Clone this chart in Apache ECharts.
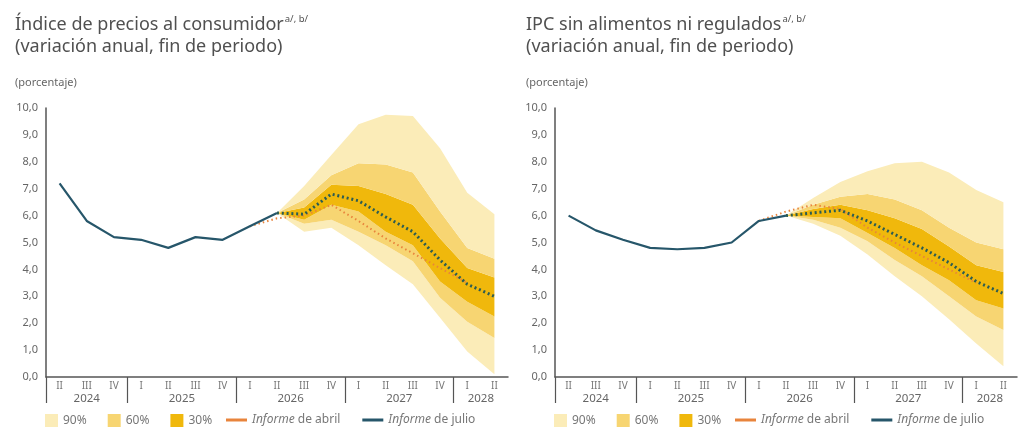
<!DOCTYPE html>
<html>
<head>
<meta charset="utf-8">
<title>Pronósticos de inflación</title>
<script src="https://cdn.jsdelivr.net/npm/echarts@6/dist/echarts.min.js"></script>
<style>
    html, body { margin: 0; padding: 0; background: #fff; }
    #chart { width: 1024px; height: 441px; }
</style>
</head>
<body>
<div id="chart"></div>
<script>
// eje x: trimestres de 2024 II a 2028 II
var trimestres = ['2024 II', '2024 III', '2024 IV', '2025 I', '2025 II', '2025 III', '2025 IV',
    '2026 I', '2026 II', '2026 III', '2026 IV', '2027 I', '2027 II', '2027 III', '2027 IV',
    '2028 I', '2028 II'];
var inicioFan = 8; // el abanico arranca en 2026 II

// Índice de precios al consumidor
var ipcJulio = [7.2, 5.8, 5.2, 5.1, 4.8, 5.2, 5.1, 5.6, 6.1, 6.05, 6.8, 6.55, 5.95, 5.4, 4.35, 3.45, 3.0];
var ipcAbril = [null, null, null, null, null, null, null, 5.6, 5.9, 6.0, 6.4, 5.8, 5.15, 4.6, 4.05, 3.5, null];
// bandas del abanico (2026 II a 2028 II)
var ipcInf90 = [6.1, 5.4, 5.55, 4.9, 4.15, 3.45, 2.2, 0.95, 0.1];
var ipcInf60 = [6.1, 5.7, 5.85, 5.4, 4.9, 4.3, 2.95, 2.05, 1.45];
var ipcInf30 = [6.1, 5.85, 6.4, 6.15, 5.4, 4.9, 3.55, 2.8, 2.25];
var ipcSup30 = [6.1, 6.3, 7.15, 7.1, 6.8, 6.4, 5.15, 4.05, 3.7];
var ipcSup60 = [6.1, 6.6, 7.5, 7.95, 7.9, 7.6, 6.15, 4.8, 4.4];
var ipcSup90 = [6.1, 7.1, 8.25, 9.4, 9.75, 9.7, 8.5, 6.85, 6.05];

// IPC sin alimentos ni regulados
var sarJulio = [6.0, 5.45, 5.1, 4.8, 4.75, 4.8, 5.0, 5.8, 6.0, 6.1, 6.2, 5.8, 5.3, 4.8, 4.25, 3.55, 3.1];
var sarAbril = [null, null, null, null, null, null, null, 5.8, 6.15, 6.4, 6.25, 5.55, 5.0, 4.5, 4.0, 3.5, null];
var sarInf90 = [6.0, 5.7, 5.25, 4.55, 3.75, 3.0, 2.15, 1.25, 0.4];
var sarInf60 = [6.0, 5.85, 5.55, 5.05, 4.35, 3.75, 3.0, 2.25, 1.75];
var sarInf30 = [6.0, 5.95, 5.9, 5.35, 4.8, 4.15, 3.6, 2.85, 2.55];
var sarSup30 = [6.0, 6.25, 6.4, 6.2, 5.9, 5.5, 4.85, 4.15, 3.9];
var sarSup60 = [6.0, 6.4, 6.7, 6.8, 6.6, 6.2, 5.55, 5.0, 4.75];
var sarSup90 = [6.0, 6.65, 7.25, 7.65, 7.95, 8.0, 7.6, 6.95, 6.5];

var fuente = '"Noto Sans", "Open Sans", sans-serif';
var c90 = '#fbecb8';
var c60 = '#f7d572';
var c30 = '#f0b80c';
var cAbril = '#e8843c';
var cJulio = '#26566a';
var cPronostico = '#2c5c52';

var myChart = echarts.init(document.getElementById('chart'));

// limites y centros de cada año en el eje de trimestres
var limitesAnio = [];
var etiquetaAnio = {};
trimestres.forEach(function (t, i) {
    if (i === 0 || t.split(' ')[0] !== trimestres[i - 1].split(' ')[0]) limitesAnio.push(i);
});
var centrosAnio = limitesAnio.map(function (ini, k) {
    var fin = k + 1 < limitesAnio.length ? limitesAnio[k + 1] : trimestres.length;
    var c = (ini + fin) / 2;
    etiquetaAnio[c] = trimestres[ini].split(' ')[0];
    return c;
});

function pad(arr) {
    return trimestres.map(function (t, i) { return i < inicioFan ? null : arr[i - inicioFan]; });
}
function resta(a, b) {
    return a.map(function (v, i) { return v == null ? null : +(v - b[i]).toFixed(3); });
}

function seriesPanel(g, julio, abril, inf90, inf60, inf30, sup30, sup60, sup90) {
    var i90 = pad(inf90), i60 = pad(inf60), i30 = pad(inf30);
    var s30 = pad(sup30), s60 = pad(sup60), s90 = pad(sup90);
    var capas = [
        ['base', i90, null],
        ['90%', resta(i60, i90), c90],
        ['60%', resta(i30, i60), c60],
        ['30%', resta(s30, i30), c30],
        ['60%', resta(s60, s30), c60],
        ['90%', resta(s90, s60), c90]
    ];
    var lista = capas.map(function (c) {
        return {
            name: c[0],
            type: 'line',
            xAxisIndex: g * 2,
            yAxisIndex: g,
            stack: 'fan' + g,
            data: c[1],
            symbol: 'none',
            silent: true,
            lineStyle: { width: 0, opacity: 0 },
            itemStyle: { color: c[2] || 'transparent' },
            areaStyle: c[2] ? { color: c[2], opacity: 1 } : null,
            z: 1
        };
    });
    lista.push({
        name: 'Informe de abril',
        type: 'line',
        xAxisIndex: g * 2,
        yAxisIndex: g,
        data: abril,
        symbol: 'none',
        itemStyle: { color: cAbril },
        lineStyle: { color: cAbril, width: 2, type: [1.5, 3] },
        z: 3
    });
    lista.push({
        name: 'Informe de julio',
        type: 'line',
        xAxisIndex: g * 2,
        yAxisIndex: g,
        data: julio.map(function (v, i) { return i <= inicioFan ? v : null; }),
        symbol: 'none',
        itemStyle: { color: cJulio },
        lineStyle: { color: cJulio, width: 2.2 },
        z: 4
    });
    lista.push({
        name: 'Pronóstico julio',
        type: 'line',
        xAxisIndex: g * 2,
        yAxisIndex: g,
        data: julio.map(function (v, i) { return i >= inicioFan ? v : null; }),
        symbol: 'none',
        itemStyle: { color: cPronostico },
        lineStyle: { color: cPronostico, width: 3, type: [2, 2.8] },
        z: 5
    });
    return lista;
}

var izq = [46, 555];

function ejesX(g) {
    return [{
        type: 'category',
        gridIndex: g,
        position: 'bottom',
        data: trimestres,
        boundaryGap: true,
        axisLine: { lineStyle: { color: '#555', width: 1.5 } },
        axisTick: { interval: 0, length: 10, lineStyle: { color: '#555', width: 1.2 } },
        axisLabel: {
            interval: 0,
            margin: 4,
            color: '#777',
            fontSize: 10,
            fontFamily: fuente,
            formatter: function (v) { return v.split(' ')[1]; }
        }
    }, {
        type: 'value',
        gridIndex: g,
        position: 'bottom',
        offset: 0,
        min: 0,
        max: trimestres.length,
        axisLine: { show: false },
        splitLine: { show: false },
        axisTick: { show: true, customValues: limitesAnio, length: 26, lineStyle: { color: '#555', width: 1.2 } },
        axisLabel: {
            customValues: centrosAnio,
            margin: 16,
            color: '#666',
            fontSize: 11.5,
            fontFamily: fuente,
            formatter: function (v) { return etiquetaAnio[v] || ''; }
        }
    }];
}

function ejeY(g) {
    return {
        type: 'value',
        gridIndex: g,
        min: 0,
        max: 10,
        interval: 1,
        axisLine: { show: true, lineStyle: { color: '#555', width: 1.5 } },
        axisTick: { show: false },
        splitLine: { show: false },
        axisLabel: {
            margin: 8,
            color: '#666',
            fontSize: 11,
            fontFamily: fuente,
            formatter: function (v) { return v.toFixed(1).replace('.', ','); }
        }
    };
}

function titulo(texto, x) {
    return {
        text: '{t|' + texto + '}{s|a/, b/}\n{t|(variación anual, fin de periodo)}',
        left: x,
        top: 14,
        padding: 0,
        textStyle: {
            fontWeight: 'normal',
            rich: {
                t: { fontSize: 18, fontWeight: 'normal', color: '#505050', fontFamily: fuente, lineHeight: 22 },
                s: { fontSize: 9.5, fontWeight: 'normal', color: '#505050', fontFamily: fuente, verticalAlign: 'top', lineHeight: 12, padding: [0, 0, 0, 1] }
            }
        }
    };
}

function leyendas(x) {
    return [{
        left: x - 1,
        top: 414,
        padding: 0,
        data: ['90%', '60%', '30%'],
        icon: 'rect',
        itemWidth: 13,
        itemHeight: 13,
        itemGap: 21,
        selectedMode: false,
        textStyle: { color: '#777', fontSize: 12, fontFamily: fuente }
    }, {
        left: x + 180,
        top: 414,
        padding: 0,
        data: ['Informe de abril', 'Informe de julio'],
        icon: 'rect',
        itemWidth: 21,
        itemHeight: 3,
        itemGap: 22,
        selectedMode: false,
        formatter: function (name) { return '{i|Informe}' + name.replace('Informe', ''); },
        textStyle: {
            color: '#777', fontSize: 12, fontFamily: fuente,
            rich: { i: { fontStyle: 'italic', color: '#777', fontSize: 12, fontFamily: fuente } }
        }
    }];
}

var option = {
    animation: false,
    backgroundColor: '#fff',
    title: [
        titulo('Índice de precios al consumidor', 15),
        titulo('IPC sin alimentos ni regulados', 526),
        { text: '(porcentaje)', left: 15, top: 77, padding: 0, textStyle: { fontSize: 11, fontWeight: 'normal', color: '#666', fontFamily: fuente } },
        { text: '(porcentaje)', left: 526, top: 77, padding: 0, textStyle: { fontSize: 11, fontWeight: 'normal', color: '#666', fontFamily: fuente } }
    ],
    legend: leyendas(izq[0]).concat(leyendas(izq[1])),
    grid: [
        { left: izq[0], top: 108, width: 462, height: 269 },
        { left: izq[1], top: 108, width: 462, height: 269 }
    ],
    xAxis: ejesX(0).concat(ejesX(1)),
    yAxis: [ejeY(0), ejeY(1)],
    series: seriesPanel(0, ipcJulio, ipcAbril, ipcInf90, ipcInf60, ipcInf30, ipcSup30, ipcSup60, ipcSup90)
        .concat(seriesPanel(1, sarJulio, sarAbril, sarInf90, sarInf60, sarInf30, sarSup30, sarSup60, sarSup90))
};

myChart.setOption(option);
window.addEventListener('resize', function () {
    myChart.resize();
});
</script>
</body>
</html>
